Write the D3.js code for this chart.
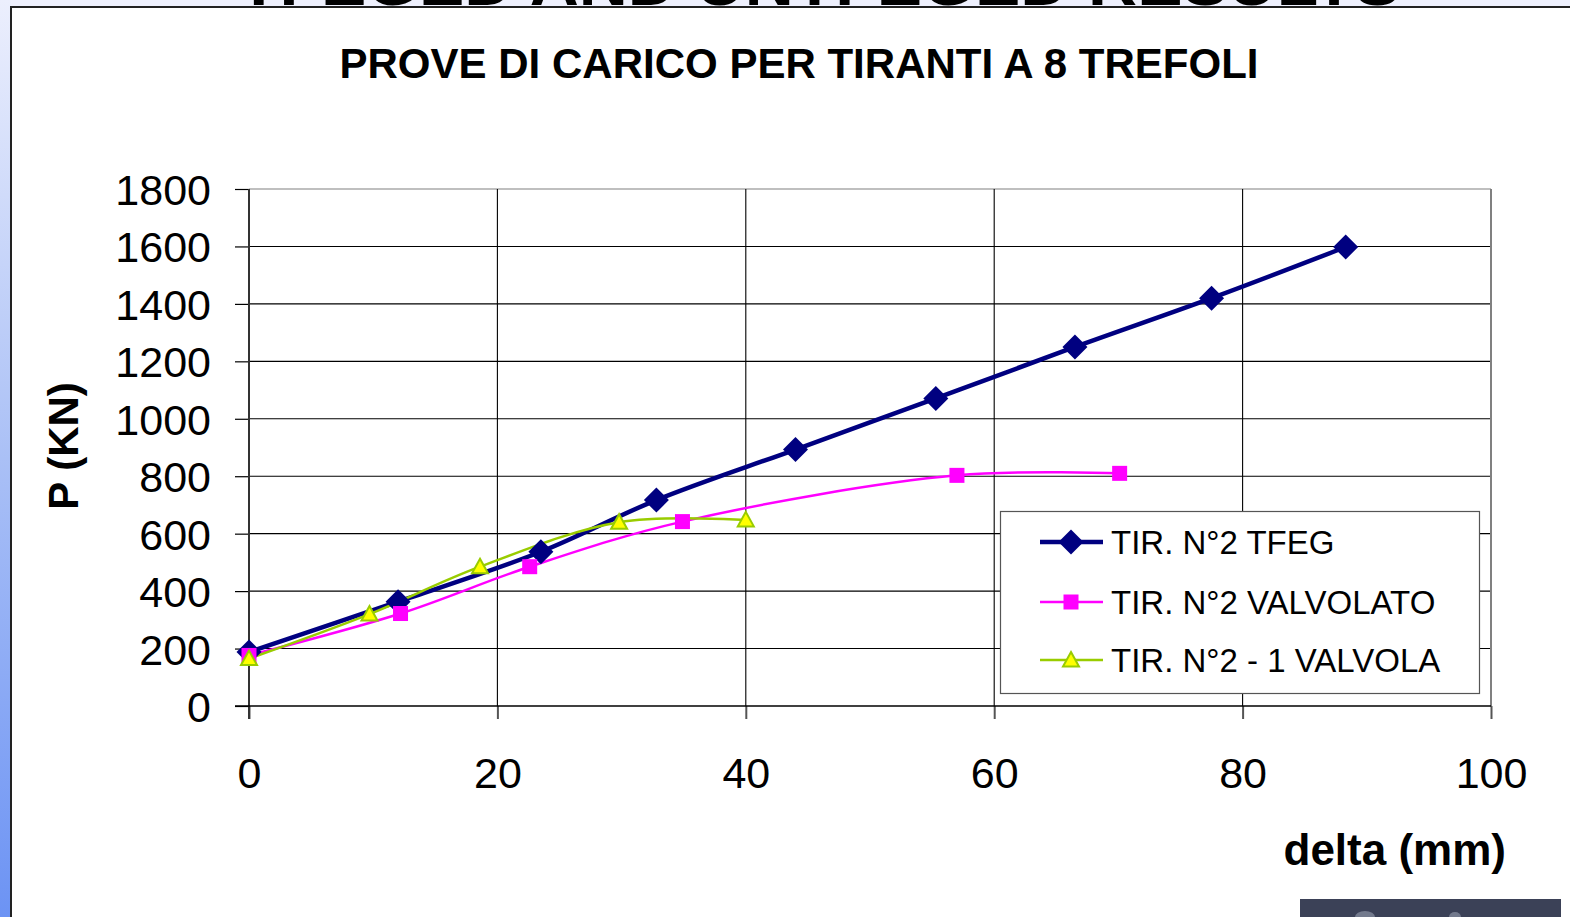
<!DOCTYPE html>
<html>
<head>
<meta charset="utf-8">
<script src="https://cdn.jsdelivr.net/npm/d3@7"></script>
<style>
  html, body { margin: 0; padding: 0; background: #eef0fd; overflow: hidden; }
  svg { display: block; font-family: "Liberation Sans", Arial, sans-serif; }
</style>
</head>
<body>
<svg id="chart" width="1570" height="917"></svg>
<script>
// ---- data ----
const chartTitle = "PROVE DI CARICO PER TIRANTI A 8 TREFOLI";
const headerText = "TFEGED AND UNTFEGED RESULTS";
const xTitle = "delta (mm)";
const yTitle = "P (KN)";
const xTicks = [0, 20, 40, 60, 80, 100];
const yTicks = [0, 200, 400, 600, 800, 1000, 1200, 1400, 1600, 1800];
const seriesNames = ["TIR. N°2 TFEG", "TIR. N°2 VALVOLATO", "TIR. N°2 - 1 VALVOLA"];
const tfegX = [0, 12, 23.5, 32.8, 44, 55.3, 66.5, 77.5, 88.3];
const tfegY = [188, 363, 537, 717, 893, 1071, 1250, 1420, 1598];
const valvolatoX = [0, 12.2, 22.6, 34.9, 57, 70.1];
const valvolatoY = [176, 322, 485, 642, 803, 810];
const valvolaX = [0, 9.7, 18.6, 29.8, 40];
const valvolaY = [165, 320, 485, 640, 648];

// ---- layout ----
const svg = d3.select("#chart");
const W = 1570, H = 917;
const x = d3.scaleLinear().domain([0, 100]).range([249, 1491]);
const y = d3.scaleLinear().domain([0, 1800]).range([706, 189]);

// page background / left gradient strip
const defs = svg.append("defs");
const grad = defs.append("linearGradient").attr("id", "leftGrad")
  .attr("x1", 0).attr("y1", 0).attr("x2", 0).attr("y2", 1);
grad.append("stop").attr("offset", "0%").attr("stop-color", "#eceffd");
grad.append("stop").attr("offset", "50%").attr("stop-color", "#aac0f6");
grad.append("stop").attr("offset", "100%").attr("stop-color", "#6c93f4");

svg.append("rect").attr("x", 0).attr("y", 0).attr("width", W).attr("height", H).attr("fill", "#eef0fd");
svg.append("rect").attr("x", 0).attr("y", 0).attr("width", 11).attr("height", H).attr("fill", "url(#leftGrad)");

// cut-off header text at very top
svg.append("text").attr("x", 238).attr("y", 5)
  .attr("font-size", 64).attr("font-weight", "bold").attr("fill", "#000")
  .attr("textLength", 1162).attr("lengthAdjust", "spacingAndGlyphs")
  .text(headerText);

// white panel with dark border
svg.append("rect").attr("x", 11).attr("y", 7).attr("width", W - 11).attr("height", H - 7).attr("fill", "#fff");
svg.append("line").attr("x1", 11).attr("x2", 11).attr("y1", 6).attr("y2", H).attr("stroke", "#222").attr("stroke-width", 2);
svg.append("line").attr("x1", 10).attr("x2", W).attr("y1", 7).attr("y2", 7).attr("stroke", "#222").attr("stroke-width", 2);

// dark box bottom right
svg.append("rect").attr("x", 1300).attr("y", 899).attr("width", 261).attr("height", 18).attr("fill", "#3b4157");
svg.append("ellipse").attr("cx", 1365).attr("cy", 917).attr("rx", 10).attr("ry", 6).attr("fill", "#9aa0b0").attr("opacity", 0.6);
svg.append("ellipse").attr("cx", 1455).attr("cy", 917).attr("rx", 6).attr("ry", 5).attr("fill", "#9aa0b0").attr("opacity", 0.6);

// title
svg.append("text").attr("x", 799).attr("y", 78).attr("text-anchor", "middle")
  .attr("font-size", 42).attr("font-weight", "bold").attr("fill", "#000")
  .attr("textLength", 919).attr("lengthAdjust", "spacingAndGlyphs")
  .text(chartTitle);

// gridlines
const g = svg.append("g");
g.selectAll("line.hgrid").data(yTicks.filter(d => d > 0)).enter().append("line")
  .attr("class", "hgrid")
  .attr("x1", x(0)).attr("x2", x(100))
  .attr("y1", d => y(d)).attr("y2", d => y(d))
  .attr("stroke", d => d === 1800 ? "#808080" : "#000").attr("stroke-width", 1.1);
g.selectAll("line.vgrid").data(xTicks.filter(d => d > 0)).enter().append("line")
  .attr("class", "vgrid")
  .attr("x1", d => x(d)).attr("x2", d => x(d))
  .attr("y1", y(1800)).attr("y2", y(0))
  .attr("stroke", d => d === 100 ? "#808080" : "#000").attr("stroke-width", d => d === 100 ? 2 : 1.1);

// axes
const yAxis = d3.axisLeft(y).tickValues(yTicks).tickSize(14).tickPadding(24).tickFormat(d3.format("d"));
const xAxis = d3.axisBottom(x).tickValues(xTicks).tickSize(13).tickPadding(38).tickFormat(d3.format("d"));

const ya = svg.append("g").attr("transform", `translate(${x(0)},0)`).call(yAxis);
ya.select(".domain").remove();
ya.selectAll(".tick line").attr("stroke", "#000").attr("stroke-width", 1.2);
ya.selectAll(".tick text").attr("font-size", 43).attr("fill", "#000")
  .attr("font-family", "'Liberation Sans', Arial, sans-serif").attr("dy", "0.36em");

const xa = svg.append("g").attr("transform", `translate(0,${y(0)})`).call(xAxis);
xa.select(".domain").remove();
xa.selectAll(".tick line").attr("stroke", "#555").attr("stroke-width", 2);
xa.selectAll(".tick text").attr("font-size", 43).attr("fill", "#000")
  .attr("font-family", "'Liberation Sans', Arial, sans-serif").attr("dy", "0.71em");

// axis lines
svg.append("line").attr("x1", x(0)).attr("x2", x(0)).attr("y1", y(1800)).attr("y2", y(0) + 13)
  .attr("stroke", "#333").attr("stroke-width", 2);
svg.append("line").attr("x1", x(0) - 14).attr("x2", x(100)).attr("y1", y(0)).attr("y2", y(0))
  .attr("stroke", "#000").attr("stroke-width", 1.5);

// axis titles
svg.append("text").attr("transform", "translate(78,446) rotate(-90)").attr("text-anchor", "middle")
  .attr("font-size", 42).attr("font-weight", "bold").attr("fill", "#000").text(yTitle);
svg.append("text").attr("x", 1506).attr("y", 865).attr("text-anchor", "end")
  .attr("font-size", 44).attr("font-weight", "bold").attr("fill", "#000").text(xTitle);

// series
const series = [
  { name: seriesNames[0], xs: tfegX, ys: tfegY, color: "#000080", width: 4.5, marker: "diamond" },
  { name: seriesNames[1], xs: valvolatoX, ys: valvolatoY, color: "#ff00ff", width: 2.5, marker: "square" },
  { name: seriesNames[2], xs: valvolaX, ys: valvolaY, color: "#99cc00", width: 2.5, marker: "triangle" }
];

const line = d3.line().x(d => x(d[0])).y(d => y(d[1])).curve(d3.curveCatmullRom.alpha(0.5));

function drawMarker(sel, type, color) {
  if (type === "diamond") {
    sel.append("path").attr("d", "M0,-12.5L12.5,0L0,12.5L-12.5,0Z").attr("fill", color);
  } else if (type === "square") {
    sel.append("rect").attr("x", -7.5).attr("y", -7.5).attr("width", 15).attr("height", 15).attr("fill", color);
  } else {
    sel.append("path").attr("d", "M0,-8L8,6.5L-8,6.5Z").attr("fill", "#ffff00")
      .attr("stroke", color).attr("stroke-width", 2);
  }
}

series.forEach(s => {
  const pts = s.xs.map((v, i) => [v, s.ys[i]]);
  svg.append("path").datum(pts).attr("d", line).attr("fill", "none")
    .attr("stroke", s.color).attr("stroke-width", s.width).attr("stroke-linejoin", "round");
});
series.forEach(s => {
  const pts = s.xs.map((v, i) => [v, s.ys[i]]);
  svg.selectAll(null).data(pts).enter().append("g")
    .attr("transform", d => `translate(${x(d[0])},${y(d[1])})`)
    .each(function () { drawMarker(d3.select(this), s.marker, s.color); });
});

// legend
const leg = svg.append("g");
leg.append("rect").attr("x", 1000.5).attr("y", 511.5).attr("width", 479).attr("height", 182)
  .attr("fill", "#fff").attr("stroke", "#555").attr("stroke-width", 1.2);
const legY = [542, 602, 660];
series.forEach((s, i) => {
  const row = leg.append("g").attr("transform", `translate(0,${legY[i]})`);
  row.append("line").attr("x1", 1040).attr("x2", 1103).attr("y1", 0).attr("y2", 0)
    .attr("stroke", s.color).attr("stroke-width", s.width);
  const m = row.append("g").attr("transform", "translate(1071,0)");
  drawMarker(m, s.marker, s.color);
  row.append("text").attr("x", 1111).attr("y", 12).attr("font-size", 33).attr("fill", "#000").text(s.name);
});
</script>
</body>
</html>
